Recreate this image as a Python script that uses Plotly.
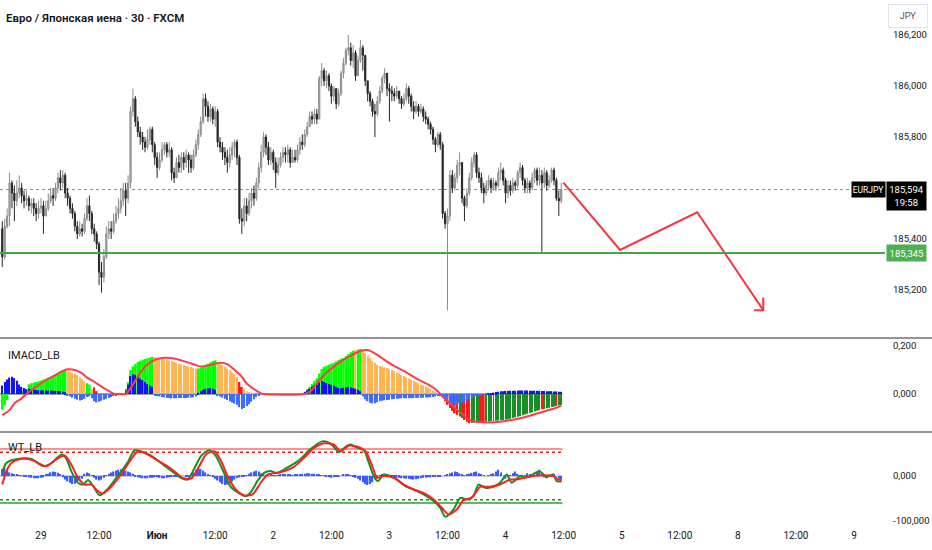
import plotly.graph_objects as go

FONT = "Roboto, sans-serif"
TEXT = "#131722"

# 30 min bars, index 0 = 28 May 16:00 ... index 231 = 4 Jun 11:30
FIRST_OPEN = 185.44
CLOSE = [
    185.33, 185.45, 185.49, 185.62, 185.58, 185.55, 185.58, 185.60, 185.57, 185.55,
    185.56, 185.53, 185.54, 185.52, 185.50, 185.52, 185.53, 185.49, 185.52, 185.55,
    185.57, 185.56, 185.60, 185.64, 185.62, 185.65, 185.58, 185.56, 185.52, 185.50,
    185.45, 185.42, 185.44, 185.43, 185.48, 185.53, 185.50, 185.44, 185.42, 185.38,
    185.27, 185.25, 185.33, 185.42, 185.44, 185.43, 185.47, 185.50, 185.52, 185.55,
    185.59, 185.56, 185.62, 185.90, 185.95, 185.86, 185.82, 185.80, 185.78, 185.76,
    185.79, 185.83, 185.77, 185.72, 185.68, 185.71, 185.75, 185.77, 185.74, 185.75,
    185.66, 185.64, 185.70, 185.68, 185.72, 185.70, 185.73, 185.71, 185.68, 185.73,
    185.77, 185.81, 185.86, 185.95, 185.92, 185.88, 185.91, 185.87, 185.90, 185.78,
    185.76, 185.74, 185.72, 185.70, 185.73, 185.76, 185.78, 185.72, 185.48, 185.47,
    185.53, 185.50, 185.55, 185.58, 185.56, 185.62, 185.68, 185.74, 185.80, 185.76,
    185.71, 185.74, 185.70, 185.66, 185.69, 185.72, 185.74, 185.73, 185.75, 185.70,
    185.72, 185.71, 185.75, 185.78, 185.77, 185.81, 185.84, 185.88, 185.87, 185.89,
    185.87, 186.03, 186.06, 186.02, 186.04, 186.00, 185.96, 185.99, 185.93, 185.97,
    186.05, 186.09, 186.14, 186.15, 186.10, 186.13, 186.04, 186.10, 186.15, 186.12,
    186.02, 185.97, 185.94, 185.90, 185.89, 185.94, 185.98, 186.03, 186.05, 185.99,
    185.98, 185.97, 185.96, 185.98, 185.95, 185.93, 185.95, 185.99, 185.96, 185.92,
    185.90, 185.92, 185.90, 185.91, 185.88, 185.87, 185.85, 185.83, 185.79, 185.77,
    185.81, 185.77, 185.50, 185.46, 185.49, 185.65, 185.60, 185.64, 185.69, 185.70,
    185.56, 185.53, 185.58, 185.64, 185.70, 185.73, 185.66, 185.64, 185.60, 185.58,
    185.61, 185.63, 185.60, 185.62, 185.61, 185.66, 185.67, 185.63, 185.58, 185.61,
    185.59, 185.62, 185.61, 185.66, 185.68, 185.63, 185.60, 185.62, 185.60, 185.64,
    185.67, 185.63, 185.65, 185.62, 185.66, 185.61, 185.63, 185.67, 185.63, 185.56,
    185.55, 185.594,
]
HIGH = [
    185.47, 185.48, 185.52, 185.66, 185.63, 185.61, 185.63, 185.65, 185.62, 185.59,
    185.59, 185.57, 185.56, 185.56, 185.54, 185.55, 185.56, 185.55, 185.55, 185.58,
    185.60, 185.60, 185.62, 185.66, 185.67, 185.67, 185.66, 185.60, 185.57, 185.54,
    185.51, 185.47, 185.47, 185.46, 185.50, 185.56, 185.57, 185.51, 185.46, 185.43,
    185.39, 185.31, 185.36, 185.45, 185.47, 185.47, 185.50, 185.53, 185.56, 185.60,
    185.62, 185.62, 185.65, 185.92, 185.99, 185.96, 185.88, 185.84, 185.82, 185.80,
    185.83, 185.84, 185.84, 185.78, 185.74, 185.74, 185.78, 185.78, 185.78, 185.78,
    185.76, 185.68, 185.72, 185.73, 185.74, 185.74, 185.75, 185.74, 185.73, 185.75,
    185.79, 185.83, 185.88, 185.97, 185.97, 185.94, 185.93, 185.92, 185.92, 185.91,
    185.80, 185.78, 185.76, 185.75, 185.76, 185.78, 185.79, 185.79, 185.73, 185.52,
    185.56, 185.56, 185.58, 185.60, 185.61, 185.64, 185.70, 185.77, 185.82, 185.81,
    185.78, 185.76, 185.75, 185.72, 185.72, 185.74, 185.76, 185.76, 185.77, 185.76,
    185.75, 185.75, 185.77, 185.80, 185.81, 185.83, 185.86, 185.90, 185.90, 185.91,
    185.91, 186.04, 186.09, 186.07, 186.06, 186.05, 186.01, 186.00, 185.99, 185.99,
    186.06, 186.11, 186.15, 186.20, 186.17, 186.16, 186.14, 186.12, 186.18, 186.16,
    186.12, 186.02, 185.98, 185.95, 185.93, 185.96, 186.00, 186.04, 186.07, 186.05,
    186.01, 186.00, 185.99, 186.00, 185.98, 185.96, 185.97, 186.01, 186.00, 185.97,
    185.94, 185.94, 185.93, 185.93, 185.92, 185.90, 185.88, 185.86, 185.84, 185.80,
    185.82, 185.82, 185.78, 185.51, 185.52, 185.67, 185.67, 185.66, 185.71, 185.74,
    185.70, 185.57, 185.60, 185.66, 185.72, 185.74, 185.74, 185.68, 185.66, 185.62,
    185.63, 185.65, 185.64, 185.64, 185.63, 185.68, 185.70, 185.68, 185.64, 185.63,
    185.63, 185.64, 185.63, 185.67, 185.70, 185.69, 185.64, 185.64, 185.63, 185.66,
    185.68, 185.68, 185.68, 185.67, 185.68, 185.67, 185.65, 185.68, 185.68, 185.64,
    185.59, 185.62,
]
LOW = [
    185.29, 185.32, 185.44, 185.45, 185.52, 185.47, 185.53, 185.56, 185.54, 185.52,
    185.53, 185.51, 185.50, 185.49, 185.47, 185.48, 185.50, 185.42, 185.49, 185.51,
    185.54, 185.53, 185.55, 185.58, 185.59, 185.60, 185.56, 185.53, 185.50, 185.48,
    185.43, 185.40, 185.41, 185.41, 185.42, 185.47, 185.47, 185.42, 185.39, 185.36,
    185.22, 185.19, 185.23, 185.32, 185.40, 185.40, 185.42, 185.46, 185.48, 185.50,
    185.53, 185.49, 185.54, 185.60, 185.88, 185.84, 185.80, 185.77, 185.75, 185.74,
    185.75, 185.77, 185.74, 185.69, 185.64, 185.67, 185.70, 185.73, 185.72, 185.72,
    185.63, 185.62, 185.64, 185.66, 185.66, 185.67, 185.68, 185.66, 185.66, 185.67,
    185.72, 185.75, 185.80, 185.85, 185.88, 185.86, 185.86, 185.85, 185.84, 185.76,
    185.74, 185.71, 185.69, 185.66, 185.68, 185.71, 185.72, 185.69, 185.46, 185.42,
    185.45, 185.47, 185.49, 185.52, 185.53, 185.55, 185.60, 185.66, 185.72, 185.73,
    185.69, 185.69, 185.67, 185.60, 185.65, 185.68, 185.70, 185.70, 185.70, 185.68,
    185.70, 185.70, 185.70, 185.73, 185.75, 185.76, 185.80, 185.84, 185.85, 185.85,
    185.85, 185.87, 186.00, 186.00, 185.99, 185.98, 185.93, 185.94, 185.91, 185.92,
    185.96, 186.03, 186.08, 186.12, 186.08, 186.07, 186.02, 186.04, 186.09, 186.06,
    186.00, 185.94, 185.92, 185.88, 185.80, 185.88, 185.93, 185.97, 186.01, 185.96,
    185.86, 185.94, 185.94, 185.95, 185.93, 185.91, 185.92, 185.94, 185.93, 185.90,
    185.87, 185.89, 185.88, 185.89, 185.86, 185.85, 185.83, 185.81, 185.77, 185.74,
    185.76, 185.75, 185.48, 185.44, 185.12, 185.47, 185.58, 185.59, 185.62, 185.65,
    185.54, 185.47, 185.52, 185.57, 185.63, 185.68, 185.64, 185.62, 185.58, 185.54,
    185.57, 185.59, 185.58, 185.59, 185.59, 185.60, 185.63, 185.61, 185.54, 185.56,
    185.57, 185.58, 185.59, 185.60, 185.64, 185.61, 185.58, 185.58, 185.58, 185.59,
    185.62, 185.61, 185.61, 185.35, 185.60, 185.59, 185.60, 185.62, 185.61, 185.55,
    185.49, 185.54,
]

# IMACD_LB: impulse histogram, its colour runs, signal histogram and signal line
MD = [
    -0.065, -0.047, -0.025, 0, 0, 0, 0, 0, 0.012, 0.015,
    0.018, 0.040, 0.045, 0.048, 0.050, 0.053, 0.056, 0.060, 0.064, 0.068,
    0.072, 0.076, 0.080, 0.085, 0.090, 0.095, 0.100, 0.098, 0.095, 0.090,
    0.085, 0.078, 0.070, 0.062, 0.052, 0.045, 0.040, 0.020, 0.028, 0.012,
    0, 0, 0, 0, 0, 0, 0, 0, 0, 0,
    0, 0.020, 0.050, 0.100, 0.115, 0.125, 0.133, 0.138, 0.142, 0.146,
    0.149, 0.152, 0.155, 0.154, 0.152, 0.150, 0.148, 0.145, 0.142, 0.139,
    0.136, 0.133, 0.130, 0.127, 0.124, 0.121, 0.118, 0.115, 0.112, 0.109,
    0.106, 0.106, 0.110, 0.115, 0.120, 0.126, 0.132, 0.137, 0.140, 0.130,
    0.126, 0.120, 0.113, 0.106, 0.099, 0.091, 0.082, 0.072, 0.050, 0.030,
    0.020, 0.012, 0.008, 0.005, 0.003, 0, 0, 0, 0, 0,
    0, 0, 0, 0, 0, 0, 0, 0, 0, 0,
    0, 0, 0, 0, 0, 0.010, 0.020, 0.030, 0.042, 0.055,
    0.065, 0.085, 0.105, 0.114, 0.118, 0.122, 0.126, 0.130, 0.136, 0.142,
    0.147, 0.150, 0.158, 0.166, 0.174, 0.180, 0.183, 0.185, 0.188, 0.178,
    0.170, 0.160, 0.150, 0.138, 0.130, 0.122, 0.117, 0.114, 0.111, 0.108,
    0.104, 0.100, 0.095, 0.090, 0.085, 0.080, 0.075, 0.070, 0.065, 0.060,
    0.055, 0.050, 0.045, 0.040, 0.036, 0.032, 0.026, 0.020, 0.015, 0.010,
    0.004, 0, -0.012, -0.030, -0.045, -0.058, -0.070, -0.080, -0.088, -0.093,
    -0.100, -0.108, -0.115, -0.122, -0.120, -0.118, -0.118, -0.117, -0.117, -0.116,
    -0.115, -0.114, -0.113, -0.112, -0.111, -0.110, -0.109, -0.108, -0.107, -0.105,
    -0.103, -0.100, -0.097, -0.094, -0.091, -0.088, -0.085, -0.082, -0.079, -0.076,
    -0.073, -0.070, -0.067, -0.064, -0.062, -0.059, -0.057, -0.054, -0.052, -0.050,
    -0.048, -0.046,
]
MD_RUNS = [
    ("lime", 0, 26), ("orange", 27, 34), ("lime", 35, 36), ("orange", 37, 37),
    ("red", 38, 39), ("orange", 40, 50), ("green", 51, 51), ("lime", 52, 62),
    ("orange", 63, 80), ("lime", 81, 88), ("orange", 89, 97), ("red", 98, 99),
    ("orange", 100, 124), ("lime", 125, 145), ("orange", 146, 146), ("lime", 147, 148),
    ("orange", 149, 181), ("red", 182, 188), ("green", 189, 189), ("red", 190, 193),
    ("green", 194, 197), ("red", 198, 199), ("green", 200, 222), ("red", 223, 223),
    ("green", 224, 228), ("red", 229, 229), ("green", 230, 231),
]
SH = [
    0.035, 0.050, 0.060, 0.068, 0.072, 0.066, 0.055, 0.040, 0.030, 0.025,
    0.020, 0.022, 0.020, 0.018, 0.017, 0.016, 0.015, 0.016, 0.015, 0.014,
    0.015, 0.014, 0.013, 0.013, 0.012, 0.010, 0.008, -0.005, -0.010, -0.015,
    -0.020, -0.024, -0.027, -0.025, -0.020, -0.012, -0.010, -0.018, -0.030, -0.035,
    -0.032, -0.028, -0.024, -0.020, -0.016, -0.012, -0.008, -0.005, -0.002, 0,
    0, 0.010, 0.040, 0.075, 0.082, 0.080, 0.072, 0.065, 0.058, 0.050,
    0.042, 0.035, 0.030, -0.005, -0.008, -0.010, -0.012, -0.014, -0.016, -0.017,
    -0.018, -0.018, -0.018, -0.017, -0.017, -0.016, -0.016, -0.015, -0.014, -0.013,
    -0.010, 0.005, 0.012, 0.018, 0.022, 0.024, 0.025, 0.022, 0.018, -0.005,
    -0.010, -0.015, -0.020, -0.025, -0.030, -0.035, -0.040, -0.045, -0.055, -0.062,
    -0.058, -0.050, -0.042, -0.032, -0.022, -0.012, -0.005, 0, 0, 0,
    0, 0, 0, 0, 0, 0, 0, 0, 0, 0,
    0, 0, 0, 0, 0, 0.008, 0.015, 0.022, 0.030, 0.036,
    0.040, 0.048, 0.054, 0.050, 0.046, 0.042, 0.038, 0.034, 0.030, 0.026,
    0.024, 0.026, 0.028, 0.030, 0.028, 0.025, 0.022, 0.018, 0.012, -0.010,
    -0.022, -0.030, -0.036, -0.039, -0.038, -0.034, -0.030, -0.028, -0.026, -0.025,
    -0.024, -0.022, -0.021, -0.020, -0.019, -0.018, -0.018, -0.018, -0.018, -0.017,
    -0.017, -0.016, -0.016, -0.015, -0.015, -0.014, -0.014, -0.013, -0.012, -0.010,
    -0.008, -0.005, -0.008, -0.020, -0.030, -0.038, -0.042, -0.045, -0.043, -0.040,
    -0.036, -0.032, -0.028, -0.022, -0.015, -0.010, -0.008, -0.006, -0.004, -0.002,
    0.000, 0.002, 0.004, 0.006, 0.008, 0.010, 0.012, 0.012, 0.013, 0.013,
    0.014, 0.014, 0.014, 0.015, 0.015, 0.015, 0.015, 0.015, 0.014, 0.014,
    0.014, 0.014, 0.013, 0.013, 0.013, 0.012, 0.012, 0.012, 0.011, 0.011,
    0.010, 0.010,
]
SIG_X = [0, 3, 5, 8, 10, 13, 17, 22, 25, 27, 30, 33, 35, 38, 41, 44, 46, 47, 51, 53,
         56, 59, 63, 67, 71, 75, 79, 82, 86, 90, 93, 96, 99, 101, 104, 107, 108, 125, 128, 130,
         133, 137, 141, 145, 148, 151, 155, 159, 163, 167, 171, 176, 180, 182, 185, 188, 191, 193, 196, 202,
         208, 215, 222, 228, 231]
SIG_Y = [-0.088, -0.067, -0.039, -0.018, 0.0, 0.024, 0.051, 0.079, 0.096, 0.103,
         0.100, 0.086, 0.068, 0.051, 0.031, 0.013, 0.001, 0.0, 0.0, 0.024,
         0.072, 0.114, 0.142, 0.151, 0.148, 0.137, 0.124, 0.114, 0.121, 0.130,
         0.124, 0.100, 0.072, 0.044, 0.021, 0.003, 0.0, 0.0, 0.017, 0.044,
         0.079, 0.114, 0.142, 0.165, 0.179, 0.183, 0.163, 0.135, 0.111, 0.090,
         0.065, 0.040, 0.012, -0.011, -0.039, -0.067, -0.090, -0.108, -0.115, -0.118,
         -0.112, -0.099, -0.078, -0.060, -0.049]

# WT_LB: wave trend lines and their difference
WT1_X = [0, 1.7, 3.8, 6.5, 9.3, 12, 14.8, 17.5, 20.3, 23, 24.7, 26.5, 28.5, 31.3, 33.3, 35.4, 37.4, 40.2,
         43.6, 47.7, 51.9, 54.6, 57.4, 61.5, 65.6, 68.3, 71.1, 73.8, 76.6, 79.3, 82.1, 85.5, 88.3, 91,
         94.4, 97.2, 100.6, 102.7, 105.4, 108.2, 110.9, 113.7, 116.4, 119.2, 123.3, 127.4, 132.2, 135.7,
         139.1, 141.9, 143.9, 146.7, 149.4, 151.5, 153.5, 155.2, 157.7, 160.4, 163.2, 166.6, 170, 174.1,
         178.3, 181, 183.1, 186.5, 189.3, 192, 194.7, 196.8, 199.6, 203, 205.7, 208.5, 210.5, 214, 216,
         218.1, 222, 225, 227.7, 229.1, 231.2]
WT1_Y = [10, 29, 35, 38, 39.5, 38, 29, 22, 29, 42, 48, 38, 11, -15, -19, -9, -21, -43,
         -28.5, 0, 31, 57, 54.5, 45.5, 29, 18, 7, -4, -8, 16, 44, 57, 44, 14.5,
         -24, -36, -45, -36, -11.5, 7, 11, 6, 14.5, 23, 38, 60, 77, 72,
         53, 65, 70, 62.6, 57.5, 29, 0, -11.5, 3.3, 0, -7.8, -22.6, -30, -41,
         -56, -70.7, -90.7, -74, -48.5, -52, -44.8, -19, -26, -24, -15, 3.3, -15, 0, -4,
         0, 10.7, -2, 3.3, -11.5, -11.5]
WT2_X = [0, 1.7, 3.8, 7.2, 10.7, 13.4, 16.2, 18.9, 22.3, 25.8, 28.5, 31.3, 34, 36.8, 39.5, 41.6, 45,
         49.1, 53.2, 56, 59.4, 63.5, 67.7, 71.1, 74.5, 78, 81.4, 84.2, 87.6, 90.3, 93.1, 96.5, 100,
         103.4, 106.8, 109.6, 113, 116.4, 120.5, 124.7, 128.8, 132.9, 137, 139.8, 143.2, 146, 150.1,
         152.9, 154.9, 157.7, 161.8, 165.9, 170, 174.1, 178.3, 181.7, 184.4, 187.9, 190.6, 194, 197.5,
         201.6, 205.7, 209.9, 212.6, 215.4, 219.5, 223.6, 227.7, 229.8, 231.2]
WT2_Y = [-19, 11, 29, 38, 38, 33, 23.5, 23.5, 37, 45.5, 25.6, -4, -19, -19, -33.7, -39, -24,
         3.3, 36.7, 55, 50, 36.7, 23.5, 10.7, -4, -6, 22, 47.8, 55, 35, 0, -30, -43,
         -41, -15, 3.3, 7, 10.7, 20.4, 40.4, 62.6, 72.6, 70, 55, 67.4, 66, 55,
         22, -4, 0, -4, -19, -30, -37.4, -52, -70.7, -85.5, -74, -53.7, -48.5, -24,
         -24, -19, -7.8, -7.8, -4, 0, 1.5, 0, -7.8, -9]
WT_HIST = [
    15, 18, 12, 8, 6, 4, 3, 2, 1, -1,
    -2, -3, -4, -5, -5, -5, -4, -3, 3, 5,
    8, 10, 9, 7, 4, -3, -8, -12, -15, -18,
    -17, -14, -10, -6, 5, 8, 6, 2, -4, -8,
    -10, -8, -4, 2, 5, 8, 10, 12, 14, 15,
    14, 12, 10, 8, 5, -2, -3, -4, -5, -5,
    -5, -4, -4, -3, -3, -4, -5, -5, -4, -3,
    -3, -2, -2, -1, 0, 0, -1, -1, 0, 8,
    14, 18, 16, 12, 8, 4, 1, -3, -6, -10,
    -14, -18, -20, -19, -16, -12, -8, -5, -3, -2,
    -1, 2, 5, 8, 10, 12, 10, 6, 3, 1,
    2, 3, 2, 1, 2, 3, 4, 4, 3, 3,
    2, 3, 4, 4, 5, 5, 6, 6, 5, 5,
    4, 3, 2, 1, -2, -3, -4, -3, -2, -1,
    0, 3, 4, 3, 2, -2, -4, -6, -10, -14,
    -18, -20, -18, -14, -8, -3, 1, 4, 5, 3,
    -2, -3, -3, -4, -4, -5, -5, -6, -6, -7,
    -8, -7, -6, -5, -4, -4, -3, -3, -2, -2,
    -1, -1, 0, 2, 4, 6, 8, 10, 9, 6,
    4, 2, 3, 5, 7, 9, 10, 6, 3, 1,
    0, 2, 4, 6, 10, 14, 8, 0, -6, -3,
    2, 6, 10, 5, -2, -4, 2, 6, 3, 0,
    2, 8, 14, 6, -3, -5, -2, 2, 5, 0,
    -6, -8,
]
WT_LEVELS = [60, 53, -53, -60]

TIME_TICKS = [16, 40, 64, 88, 112, 136, 160, 184, 208, 232, 256, 280, 304, 328, 352]
TIME_LABELS = ["29", "12:00", "<b>Июн</b>", "12:00", "2", "12:00", "3", "12:00",
               "4", "12:00", "5", "12:00", "8", "12:00", "9"]
PRICE_TICKS = [185.2, 185.4, 185.8, 186.0, 186.2]
MACD_TICKS = [0.0, 0.2]
WT_TICKS = [-100, 0]

LAST_PRICE = 185.594
LEVEL_PRICE = 185.345
TIMER = "19:58"

# hand drawn forecast arrow (bar index, price), head drawn as a polyline
ARROW_X = [231.9, 255.3, 287.2, 314.5, None, 310.7, 314.5, 314.5]
ARROW_Y = [185.621, 185.357, 185.505, 185.121, None, 185.121, 185.121, 185.171]

MD_COLORS = {"lime": "#00ff00", "green": "#178f24", "orange": "#ffb552", "red": "#ff1a1a"}
MD_WIDTH = {"lime": 1.0, "green": 0.4, "orange": 0.5, "red": 0.7}


def ru(v, nd=3):
    # comma decimals like the russian TradingView locale
    return f"{v:.{nd}f}".replace(".", ",")


n = len(CLOSE)
assert len(HIGH) == n and len(LOW) == n and len(MD) == n and len(SH) == n and len(WT_HIST) == n
bars = list(range(n))
opens = [FIRST_OPEN] + CLOSE[:-1]

md_col, md_w = [None] * n, [None] * n
for name, a, b in MD_RUNS:
    for i in range(a, b + 1):
        md_col[i] = MD_COLORS[name]
        md_w[i] = MD_WIDTH[name]

fig = go.Figure()

fig.add_trace(go.Candlestick(
    x=bars, open=opens, high=HIGH, low=LOW, close=CLOSE, xaxis="x", yaxis="y",
    increasing=dict(line=dict(color="#8c8c8c", width=1), fillcolor="#b4b4b4"),
    decreasing=dict(line=dict(color="#262626", width=1), fillcolor="#262626"),
    whiskerwidth=0, hoverinfo="skip"))

fig.add_trace(go.Scatter(
    x=ARROW_X, y=ARROW_Y, mode="lines", xaxis="x", yaxis="y",
    line=dict(color="#f7343f", width=2), hoverinfo="skip"))

fig.add_trace(go.Bar(
    x=bars, y=MD, width=md_w, marker=dict(color=md_col, line=dict(width=0)),
    xaxis="x", yaxis="y2", hoverinfo="skip"))
fig.add_trace(go.Bar(
    x=bars, y=SH, width=0.55,
    marker=dict(color=["#1414f0" if v >= 0 else "#3d6cff" for v in SH], line=dict(width=0)),
    xaxis="x", yaxis="y2", hoverinfo="skip"))
fig.add_trace(go.Scatter(
    x=SIG_X, y=SIG_Y, mode="lines", line=dict(color="#ff3b47", width=2, shape="spline", smoothing=0.6),
    xaxis="x", yaxis="y2", hoverinfo="skip"))

fig.add_trace(go.Bar(
    x=bars, y=WT_HIST, width=0.6, marker=dict(color="#3a5cff", line=dict(width=0)),
    xaxis="x", yaxis="y3", hoverinfo="skip"))
fig.add_trace(go.Scatter(
    x=WT1_X, y=WT1_Y, mode="lines", line=dict(color="#17901f", width=2, shape="spline", smoothing=0.7),
    xaxis="x", yaxis="y3", hoverinfo="skip"))
fig.add_trace(go.Scatter(
    x=WT2_X, y=WT2_Y, mode="lines", line=dict(color="#ff1f1f", width=2, shape="spline", smoothing=0.7),
    xaxis="x", yaxis="y3", hoverinfo="skip"))

end_x = n - 0.5
shapes = [
    dict(type="line", xref="x", yref="y", x0=-0.94, x1=351.0, y0=LAST_PRICE, y1=LAST_PRICE,
         line=dict(color="#8a8d96", width=1, dash="dot"), layer="below"),
    dict(type="line", xref="paper", yref="y", x0=0, x1=1, y0=LEVEL_PRICE, y1=LEVEL_PRICE,
         line=dict(color="#43a83f", width=2)),
    dict(type="line", xref="x", yref="y2", x0=-0.94, x1=end_x, y0=0, y1=0,
         line=dict(color="#3c3c3c", width=1), layer="below"),
    dict(type="line", xref="x", yref="y3", x0=-0.94, x1=end_x, y0=0, y1=0,
         line=dict(color="#a0a0a0", width=1), layer="below"),
]
level_style = {60: ("#f86b6b", "solid"), 53: ("#ff1010", "dot"), -53: ("#1d8f1d", "dot"), -60: ("#2ca02c", "solid")}
for lv in WT_LEVELS:
    c, d = level_style[lv]
    shapes.append(dict(type="line", xref="x", yref="y3", x0=-0.94, x1=end_x, y0=lv, y1=lv,
                       line=dict(color=c, width=1.5, dash=d), layer="below"))
for yp in (0.3562, 0.1771):
    shapes.append(dict(type="line", xref="paper", yref="paper", x0=0, x1=1.06, y0=yp, y1=yp,
                       line=dict(color="#6e7079", width=1.5)))

annotations = [
    dict(text="Евро / Японская иена · 30 · FXCM", xref="paper", yref="paper", x=0.0045, y=0.9657,
         xanchor="left", yanchor="middle", showarrow=False,
         font=dict(size=11.5, color=TEXT, family=FONT, weight=600)),
    dict(text="IMACD_LB", xref="paper", yref="paper", x=0.007, y=0.3238, xanchor="left",
         yanchor="middle", showarrow=False, font=dict(size=11, color=TEXT, family=FONT)),
    dict(text="WT_LB", xref="paper", yref="paper", x=0.007, y=0.1467, xanchor="left",
         yanchor="middle", showarrow=False, font=dict(size=11, color=TEXT, family=FONT)),
    dict(text="JPY", xref="paper", yref="paper", x=908 / 885, y=0.9695, xanchor="center",
         yanchor="middle", showarrow=False, width=36, height=20, bgcolor="white",
         bordercolor="#e0e3eb", borderwidth=1, borderpad=1,
         font=dict(size=9, color="#50535e", family=FONT)),
    dict(text="EURJPY", xref="paper", yref="y", x=868.5 / 885, y=LAST_PRICE, xanchor="center",
         yanchor="middle", showarrow=False, width=31, height=13, bgcolor="#000000", borderpad=1,
         font=dict(size=8.5, color="white", family=FONT)),
    dict(text=f"{ru(LAST_PRICE)}<br>{TIMER}", xref="paper", yref="y", x=906 / 885, y=LAST_PRICE,
         yshift=-6, xanchor="center", yanchor="middle", showarrow=False, width=37, height=26,
         bgcolor="#000000", borderpad=1, font=dict(size=9.5, color="white", family=FONT)),
    dict(text=ru(LEVEL_PRICE), xref="paper", yref="y", x=906.5 / 885, y=LEVEL_PRICE,
         xanchor="center", yanchor="middle", showarrow=False, width=37, height=14,
         bgcolor="#4caf50", borderpad=1, font=dict(size=9.5, color="white", family=FONT)),
]

axis_common = dict(showgrid=False, zeroline=False, showline=False, ticks="", side="right",
                   anchor="x", ticklabelstandoff=7, tickfont=dict(size=9.5, color=TEXT, family=FONT))

fig.update_layout(
    width=932, height=550, margin=dict(l=0, r=47, t=0, b=25),
    paper_bgcolor="white", plot_bgcolor="white", showlegend=False, barmode="overlay",
    font=dict(family=FONT, size=10, color=TEXT),
    xaxis=dict(range=[-0.94, 364.8], anchor="y3", showgrid=False, zeroline=False, showline=False,
               ticks="", tickvals=TIME_TICKS, ticktext=TIME_LABELS, ticklabelstandoff=3,
               tickfont=dict(size=10, color=TEXT, family=FONT), rangeslider=dict(visible=False)),
    yaxis=dict(domain=[0.3562, 1], range=[185.012, 186.337], tickvals=PRICE_TICKS,
               ticktext=[ru(v) for v in PRICE_TICKS], **axis_common),
    yaxis2=dict(domain=[0.1771, 0.3562], range=[-0.158, 0.233], tickvals=MACD_TICKS,
                ticktext=[ru(v) for v in MACD_TICKS], **axis_common),
    yaxis3=dict(domain=[0, 0.1771], range=[-108.9, 97.8], tickvals=WT_TICKS,
                ticktext=[ru(v) for v in WT_TICKS], **axis_common),
    shapes=shapes, annotations=annotations,
)

# the page body has a default 8px margin; drop it so the 932x550 figure fills the window
fig.write_html("out.html", config={"displayModeBar": False},
               post_script="document.body.style.margin='0';")
